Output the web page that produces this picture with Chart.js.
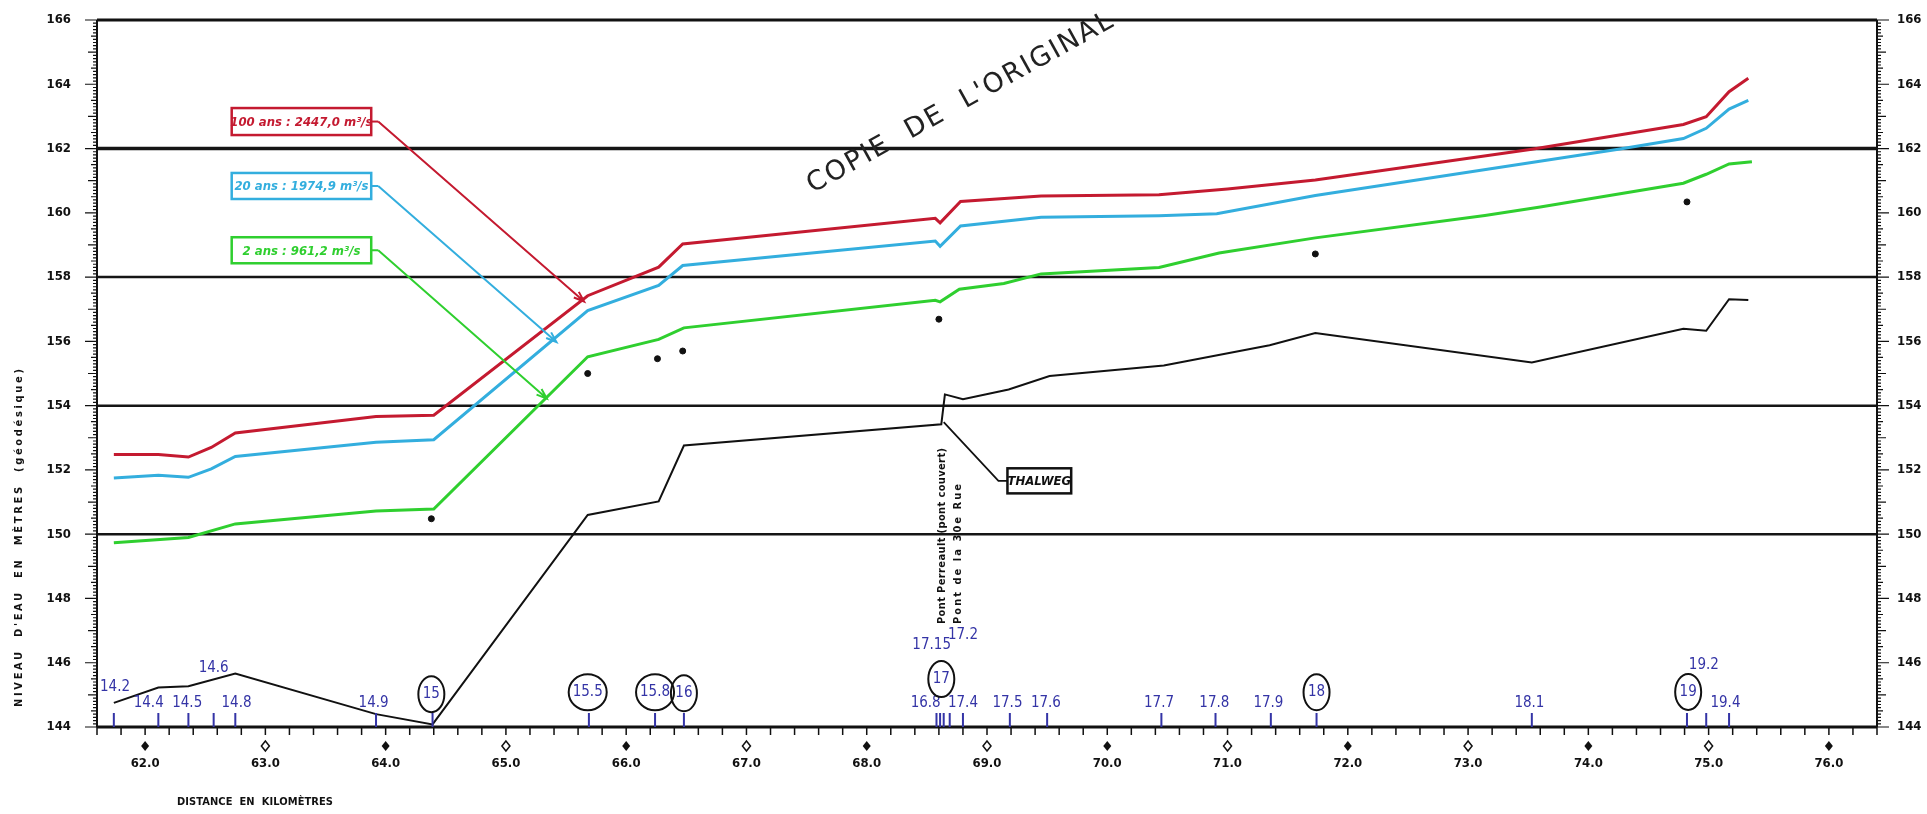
<!DOCTYPE html>
<html>
<head>
<meta charset="utf-8">
<title>Profil en long - niveaux d'eau</title>
<script src="https://cdn.jsdelivr.net/npm/chart.js@4.4.1/dist/chart.umd.min.js"></script>
<style>
  html, body { margin: 0; padding: 0; background: #fff; }
  #wrap { width: 1927px; height: 814px; }
</style>
</head>
<body>
<div id="wrap"><canvas id="profil" width="1927" height="814"></canvas></div>
<script>
const km100 = [61.74, 62.11, 62.36, 62.55, 62.75, 63.92, 64.40, 65.68, 66.27, 66.47, 68.57, 68.61, 68.78, 69.45, 70.43, 71.00, 71.73, 73.53, 74.79, 74.98, 75.17, 75.33];
const niveau100 = [152.48, 152.48, 152.40, 152.70, 153.15, 153.66, 153.70, 157.42, 158.31, 159.03, 159.83, 159.69, 160.35, 160.52, 160.56, 160.74, 161.02, 161.98, 162.75, 162.99, 163.77, 164.19];

const km20 = [61.74, 62.11, 62.36, 62.55, 62.75, 63.92, 64.40, 65.68, 66.27, 66.47, 68.57, 68.61, 68.78, 69.45, 70.43, 70.91, 71.73, 74.25, 74.79, 74.98, 75.17, 75.33];
const niveau20 = [151.75, 151.83, 151.77, 152.03, 152.42, 152.86, 152.94, 156.96, 157.74, 158.36, 159.12, 158.96, 159.59, 159.86, 159.91, 159.97, 160.54, 161.98, 162.31, 162.63, 163.23, 163.50];

const km2 = [61.74, 62.36, 62.75, 63.92, 64.40, 65.68, 66.27, 66.48, 68.57, 68.61, 68.77, 69.14, 69.45, 70.43, 70.93, 71.73, 73.14, 73.60, 74.79, 74.98, 75.17, 75.36];
const niveau2 = [149.73, 149.90, 150.32, 150.72, 150.78, 155.52, 156.06, 156.42, 157.28, 157.23, 157.62, 157.80, 158.10, 158.30, 158.75, 159.22, 159.92, 160.18, 160.92, 161.20, 161.52, 161.59];

const kmThalweg = [61.74, 62.11, 62.36, 62.75, 63.92, 64.39, 65.68, 66.27, 66.48, 68.62, 68.65, 68.80, 69.18, 69.52, 70.47, 71.35, 71.73, 73.53, 74.79, 74.98, 75.17, 75.33];
const niveauThalweg = [144.75, 145.23, 145.27, 145.66, 144.40, 144.08, 150.60, 151.02, 152.76, 153.42, 154.35, 154.20, 154.50, 154.92, 155.25, 155.88, 156.26, 155.34, 156.39, 156.33, 157.31, 157.29];

// points isolés (repères)
const kmReperes = [64.38, 65.68, 66.26, 66.47, 68.60, 71.73, 74.82];
const niveauReperes = [150.48, 155.00, 155.46, 155.70, 156.69, 158.72, 160.34];

// sections
const stationsKm = [61.74, 62.11, 62.36, 62.57, 62.75, 63.92, 64.39, 65.69, 66.24, 66.48, 68.58, 68.61, 68.64, 68.69, 68.80, 69.19, 69.50, 70.45, 70.90, 71.36, 71.74, 73.53, 74.82, 74.98, 75.17];
const stationsNom = ['14.2', '14.4', '14.5', '14.6', '14.8', '14.9', '15', '15.5', '15.8', '16', '16.8', '17', '17.15', '17.2', '17.4', '17.5', '17.6', '17.7', '17.8', '17.9', '18', '18.1', '19', '19.2', '19.4'];
const stationsCerclees = ['15', '15.5', '15.8', '16', '17', '18', '19'];

const lignesRepere = [150, 154, 158, 162];

// mise en page des étiquettes (km, niveau du centre du texte)
const posEtiquettes = [[61.75, 145.24], [62.03, 144.74], [62.35, 144.74], [62.57, 145.83], [62.76, 144.74], [63.90, 144.74], [64.38, 145.02], [65.68, 145.08], [66.24, 145.08], [66.48, 145.05], [68.49, 144.74], [68.62, 145.49], [68.54, 146.54], [68.80, 146.85], [68.80, 144.74], [69.17, 144.74], [69.49, 144.74], [70.43, 144.74], [70.89, 144.74], [71.34, 144.74], [71.74, 145.08], [73.51, 144.74], [74.83, 145.09], [74.96, 145.92], [75.14, 144.74]];

const ROUGE = '#c41a30';
const CYAN = '#33aede';
const VERT = '#2fcf2f';
const BLEU = '#3434a6';
const POLICE = "'Liberation Sans Narrow', 'DejaVu Sans Condensed', 'Liberation Sans', sans-serif";

const crues = [
  { texte: '100 ans : 2447,0 m³/s', couleur: ROUGE, boite: [62.72, 163.26, 63.88, 162.42], fleche: [65.65, 157.24] },
  { texte: '20 ans : 1974,9 m³/s', couleur: CYAN, boite: [62.72, 161.24, 63.88, 160.43], fleche: [65.42, 155.98] },
  { texte: '2 ans : 961,2 m³/s', couleur: VERT, boite: [62.72, 159.24, 63.88, 158.43], fleche: [65.34, 154.22] }
];

function points(xs, ys) {
  return xs.map((v, i) => ({ x: v, y: ys[i] }));
}

// texte étalé sur une largeur donnée (aligné à gauche)
function texteEspace(ctx, texte, x, y, largeur) {
  ctx.letterSpacing = '0px';
  const w = ctx.measureText(texte).width;
  const esp = texte.length > 1 ? (largeur - w) / (texte.length - 1) : 0;
  ctx.letterSpacing = esp + 'px';
  ctx.fillText(texte, x, y);
  ctx.letterSpacing = '0px';
}

function fleche(ctx, x0, y0, x1, y1) {
  const ang = Math.atan2(y1 - y0, x1 - x0);
  ctx.beginPath();
  ctx.moveTo(x0, y0);
  ctx.lineTo(x1, y1);
  ctx.moveTo(x1 - 11 * Math.cos(ang - 0.35), y1 - 11 * Math.sin(ang - 0.35));
  ctx.lineTo(x1, y1);
  ctx.lineTo(x1 - 11 * Math.cos(ang + 0.35), y1 - 11 * Math.sin(ang + 0.35));
  ctx.stroke();
}

const profilPlugin = {
  id: 'profil',
  beforeDatasetsDraw(chart) {
    const { ctx, chartArea: a, scales: { y } } = chart;
    ctx.save();
    ctx.strokeStyle = '#151515';
    lignesRepere.forEach(v => {
      const py = y.getPixelForValue(v);
      ctx.lineWidth = v === 162 ? 3.5 : 2.5;
      ctx.beginPath();
      ctx.moveTo(a.left, py);
      ctx.lineTo(a.right, py);
      ctx.stroke();
    });
    ctx.restore();
  },
  afterDatasetsDraw(chart) {
    const { ctx, chartArea: a, scales: { x, y } } = chart;
    ctx.save();

    // cadre
    ctx.strokeStyle = '#111';
    ctx.lineWidth = 3;
    ctx.beginPath();
    ctx.moveTo(a.left, a.top); ctx.lineTo(a.right, a.top);
    ctx.moveTo(a.left, a.bottom); ctx.lineTo(a.right, a.bottom);
    ctx.stroke();
    ctx.lineWidth = 2;
    ctx.beginPath();
    ctx.moveTo(a.left, a.top); ctx.lineTo(a.left, a.bottom);
    ctx.moveTo(a.right, a.top); ctx.lineTo(a.right, a.bottom);
    ctx.stroke();

    // graduations verticales
    ctx.lineWidth = 1.2;
    ctx.beginPath();
    for (let i = 0; i <= 220; i++) {
      const py = y.getPixelForValue(144 + i * 0.1);
      const l = i % 20 === 0 ? 12 : i % 10 === 0 ? 9 : i % 5 === 0 ? 6 : 4;
      ctx.moveTo(a.left, py); ctx.lineTo(a.left - l, py);
      ctx.moveTo(a.right, py); ctx.lineTo(a.right + l, py);
    }
    ctx.stroke();

    // graduations horizontales + losanges
    ctx.lineWidth = 1.5;
    ctx.beginPath();
    for (let i = 0; i <= 74; i++) {
      const px = x.getPixelForValue(61.6 + i * 0.2);
      ctx.moveTo(px, a.bottom); ctx.lineTo(px, a.bottom + 8);
    }
    ctx.stroke();
    for (let k = 62; k <= 76; k++) {
      const px = x.getPixelForValue(k);
      const py = a.bottom + 19;
      ctx.beginPath();
      ctx.moveTo(px, py - 5); ctx.lineTo(px + 4, py); ctx.lineTo(px, py + 5); ctx.lineTo(px - 4, py); ctx.closePath();
      if (k % 2 === 0) { ctx.fillStyle = '#111'; ctx.fill(); }
      else { ctx.lineWidth = 1.5; ctx.stroke(); }
    }

    // sections
    ctx.strokeStyle = BLEU;
    ctx.lineWidth = 2;
    ctx.beginPath();
    stationsKm.forEach(k => {
      const px = x.getPixelForValue(k);
      ctx.moveTo(px, a.bottom); ctx.lineTo(px, a.bottom - 14);
    });
    ctx.stroke();
    ctx.font = '15px ' + POLICE;
    ctx.textAlign = 'center';
    ctx.textBaseline = 'middle';
    stationsNom.forEach((nom, i) => {
      const px = x.getPixelForValue(posEtiquettes[i][0]);
      const py = y.getPixelForValue(posEtiquettes[i][1]);
      ctx.fillStyle = BLEU;
      ctx.fillText(nom, px, py);
      if (stationsCerclees.includes(nom)) {
        const w = ctx.measureText(nom).width;
        ctx.strokeStyle = '#111';
        ctx.lineWidth = 2;
        ctx.beginPath();
        ctx.ellipse(px, py, Math.max(13, w / 2 + 4), 18, 0, 0, Math.PI * 2);
        ctx.stroke();
      }
    });

    // étiquettes des crues
    crues.forEach(c => {
      const x0 = x.getPixelForValue(c.boite[0]);
      const y0 = y.getPixelForValue(c.boite[1]);
      const x1 = x.getPixelForValue(c.boite[2]);
      const y1 = y.getPixelForValue(c.boite[3]);
      ctx.fillStyle = '#fff';
      ctx.fillRect(x0, y0, x1 - x0, y1 - y0);
      ctx.strokeStyle = c.couleur;
      ctx.lineWidth = 2.5;
      ctx.strokeRect(x0, y0, x1 - x0, y1 - y0);
      ctx.fillStyle = c.couleur;
      ctx.font = 'italic bold 13px ' + POLICE;
      ctx.textAlign = 'center';
      ctx.fillText(c.texte, (x0 + x1) / 2, (y0 + y1) / 2 + 1);
      const ym = (y0 + y1) / 2;
      ctx.lineWidth = 2;
      ctx.beginPath();
      ctx.moveTo(x1, ym); ctx.lineTo(x1 + 7, ym);
      ctx.stroke();
      fleche(ctx, x1 + 7, ym, x.getPixelForValue(c.fleche[0]), y.getPixelForValue(c.fleche[1]));
    });

    // thalweg
    const tx0 = x.getPixelForValue(69.17), ty0 = y.getPixelForValue(152.05);
    const tx1 = x.getPixelForValue(69.70), ty1 = y.getPixelForValue(151.27);
    ctx.strokeStyle = '#111';
    ctx.lineWidth = 2.5;
    ctx.fillStyle = '#fff';
    ctx.fillRect(tx0, ty0, tx1 - tx0, ty1 - ty0);
    ctx.strokeRect(tx0, ty0, tx1 - tx0, ty1 - ty0);
    ctx.fillStyle = '#111';
    ctx.font = 'italic bold 13px ' + POLICE;
    ctx.fillText('THALWEG', (tx0 + tx1) / 2, (ty0 + ty1) / 2 + 1);
    ctx.lineWidth = 1.8;
    ctx.beginPath();
    const tym = (ty0 + ty1) / 2;
    ctx.moveTo(tx0, tym);
    ctx.lineTo(tx0 - 9, tym);
    ctx.lineTo(x.getPixelForValue(68.64), y.getPixelForValue(153.49));
    ctx.stroke();

    // ponts
    ctx.fillStyle = '#111';
    ctx.font = 'bold 11px ' + POLICE;
    ctx.textAlign = 'left';
    [['Pont Perreault (pont couvert)', 68.63], ['Pont de la 30e Rue', 68.76]].forEach(([t, k]) => {
      ctx.save();
      ctx.translate(x.getPixelForValue(k), a.bottom - 103);
      ctx.rotate(-Math.PI / 2);
      texteEspace(ctx, t, 0, 0, t.length > 20 ? 176 : 140);
      ctx.restore();
    });

    // tampon
    ctx.save();
    ctx.translate(x.getPixelForValue(67.55), y.getPixelForValue(160.61));
    ctx.rotate(-29 * Math.PI / 180);
    ctx.font = "27px 'DejaVu Sans', sans-serif";
    ctx.fillStyle = '#222';
    ctx.textAlign = 'left';
    ctx.textBaseline = 'alphabetic';
    texteEspace(ctx, "COPIE  DE  L'ORIGINAL", 0, 0, 345);
    ctx.restore();

    // titres des axes
    ctx.fillStyle = '#111';
    ctx.font = 'bold 11px ' + POLICE;
    ctx.textAlign = 'left';
    ctx.textBaseline = 'middle';
    ctx.save();
    ctx.translate(19, 707);
    ctx.rotate(-Math.PI / 2);
    texteEspace(ctx, "NIVEAU  D'EAU  EN  MÈTRES  (géodésique)", 0, 0, 338);
    ctx.restore();
    texteEspace(ctx, 'DISTANCE  EN  KILOMÈTRES', 177, 802, 156);

    ctx.restore();
  }
};

const policeGrad = { family: POLICE, size: 13, weight: 'bold' };

function sansMarge(s) {
  s.paddingTop = 0;
  s.paddingBottom = 0;
  s.paddingLeft = 0;
  s.paddingRight = 0;
}

new Chart(document.getElementById('profil'), {
  type: 'scatter',
  data: {
    datasets: [
      { label: '100 ans', data: points(km100, niveau100), showLine: true, borderColor: ROUGE, borderWidth: 3, pointRadius: 0 },
      { label: '20 ans', data: points(km20, niveau20), showLine: true, borderColor: CYAN, borderWidth: 3, pointRadius: 0 },
      { label: '2 ans', data: points(km2, niveau2), showLine: true, borderColor: VERT, borderWidth: 3, pointRadius: 0 },
      { label: 'Thalweg', data: points(kmThalweg, niveauThalweg), showLine: true, borderColor: '#111', borderWidth: 2, pointRadius: 0 },
      { label: 'Repères', data: points(kmReperes, niveauReperes), showLine: false, pointRadius: 3, backgroundColor: '#111', borderColor: '#111' }
    ]
  },
  options: {
    responsive: false,
    animation: false,
    layout: { padding: { top: 20, left: 0, right: 0, bottom: 0 } },
    plugins: { legend: { display: false }, tooltip: { enabled: false } },
    scales: {
      x: {
        type: 'linear', min: 61.6, max: 76.4,
        grid: { display: false, drawTicks: false },
        border: { display: false },
        ticks: { stepSize: 1, includeBounds: false, padding: 29, color: '#111', font: policeGrad, maxRotation: 0,
          callback: v => Number.isInteger(v) ? v.toFixed(1) : '' },
        afterFit: s => { s.height = 87; sansMarge(s); }
      },
      y: {
        type: 'linear', position: 'left', min: 144, max: 166,
        grid: { display: false, drawTicks: false },
        border: { display: false },
        ticks: { stepSize: 2, padding: 26, color: '#111', font: policeGrad },
        afterFit: s => { s.width = 97; sansMarge(s); }
      },
      y2: {
        type: 'linear', position: 'right', min: 144, max: 166,
        grid: { display: false, drawTicks: false },
        border: { display: false },
        ticks: { stepSize: 2, padding: 20, color: '#111', font: policeGrad },
        afterFit: s => { s.width = 50; sansMarge(s); }
      }
    }
  },
  plugins: [profilPlugin]
});
</script>
</body>
</html>
